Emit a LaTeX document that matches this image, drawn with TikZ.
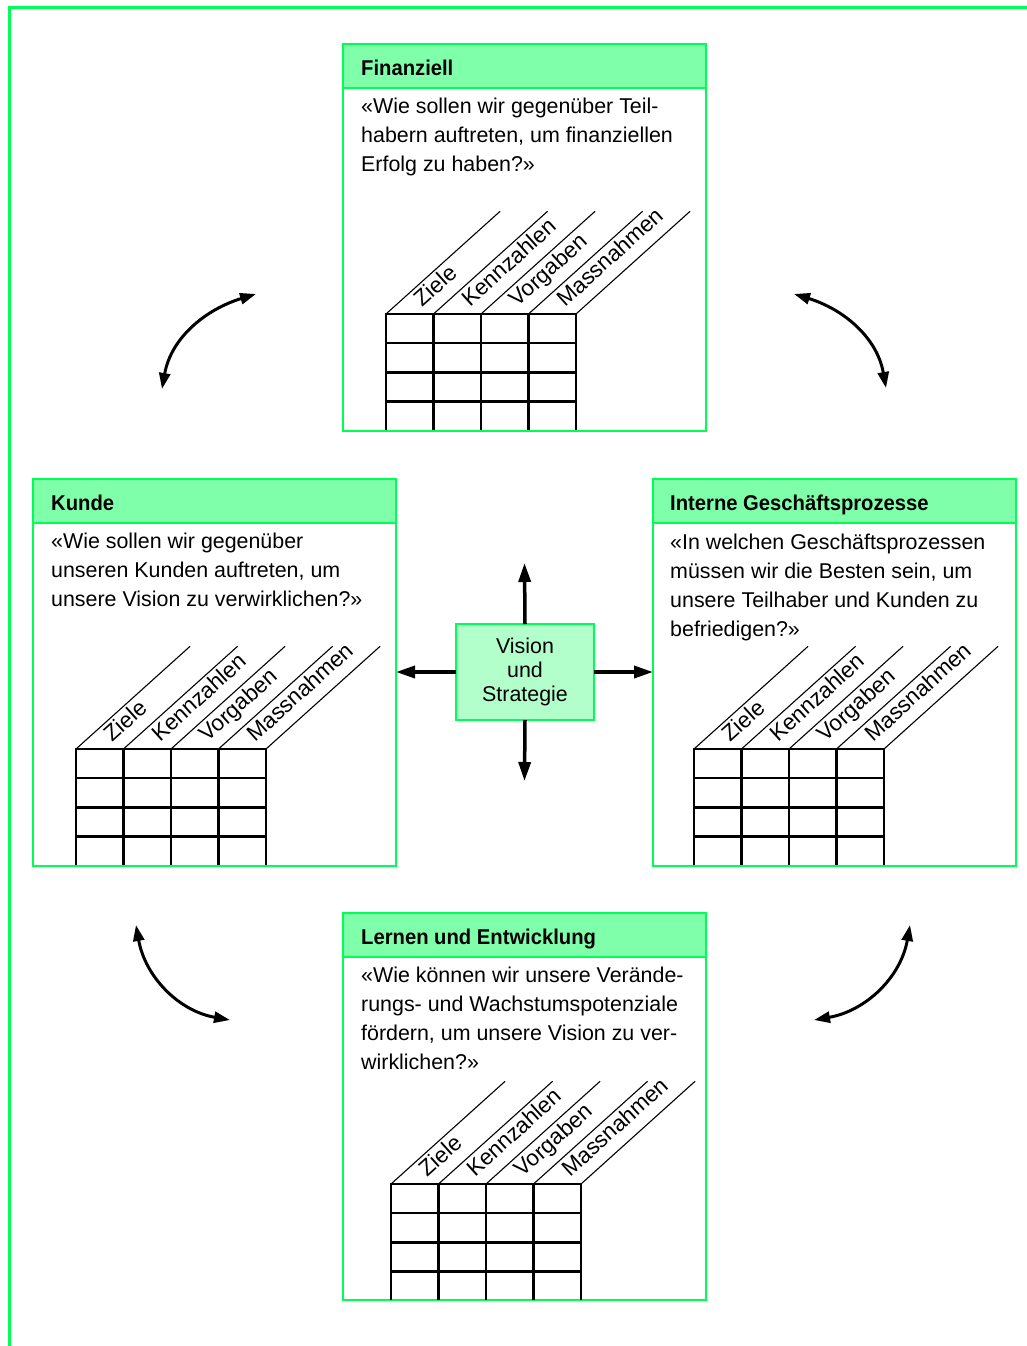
\documentclass[tikz,border=0pt]{standalone}
\usepackage{fontspec}
\setmainfont{Liberation Sans}
\newfontfamily\hdfont{Liberation Sans}[FakeStretch=0.945]
\usetikzlibrary{arrows.meta,calc}

\definecolor{bscgreen}{RGB}{0,255,85}
\definecolor{bschead}{RGB}{128,255,170}
\definecolor{bsccore}{RGB}{179,255,204}

\tikzset{
  panel/.style={draw=bscgreen, line width=2.5, fill=white, inner sep=0, outer sep=0,
    minimum width=363, minimum height=387, anchor=north west},
  headband/.style={draw=bscgreen, line width=2.5, fill=bschead, inner sep=0, outer sep=0,
    minimum width=363, minimum height=44, anchor=north west},
  headtext/.style={anchor=base west, inner sep=0, font=\hdfont\bfseries\fontsize{21.4}{26}\selectfont},
  bodytext/.style={anchor=north west, inner sep=0, align=left, font=\fontsize{21.4}{29}\selectfont},
  core/.style={draw=bscgreen, line width=2.5, fill=bsccore, inner sep=0, outer sep=0,
    minimum width=138, minimum height=96, align=center, font=\fontsize{21.4}{24.3}\selectfont},
  gridrule/.style={draw=black, line width=2.5},
  diagrule/.style={draw=black, line width=1.1},
  collabel/.style={rotate=42, anchor=base west, inner sep=0, font=\fontsize{22.4}{24}\selectfont},
  push/.style={line width=3.5, -{Triangle[length=19pt,width=12pt]}},
  swing/.style={line width=3, {Triangle[length=16pt,width=11pt]}-{Triangle[length=16pt,width=11pt]}},
  frameline/.style={draw=bscgreen, line width=3},
  pics/scorecard/.style={code={
    \foreach \i in {0,...,4}{
      \draw[gridrule] (\i*47.5,0) -- (\i*47.5,-115.5);
      \draw[diagrule] (\i*47.5,0) -- ++(42:153.5);
    }
    \foreach \j in {0,...,3}
      \draw[gridrule] (-1.25,-\j*29.2) -- (191.25,-\j*29.2);
    \foreach \lab [count=\k] in {Ziele,Kennzahlen,Vorgaben,Massnahmen}
      \path (\k*47.5,0) ++(222:4) ++(132:12) node[collabel] {\lab};
  }}
}

\begin{document}
\begin{tikzpicture}[x=1pt,y=1pt]
\useasboundingbox (0,0) rectangle (1026,-1346);

% page frame: top and left rules
\draw[frameline] (1030,-7.3) -- (9.5,-7.3) -- (9.5,-1350);

% the four perspective panels
\node[panel] (fin) at (343,-44) {};
\node[panel] (kun) at (33,-479) {};
\node[panel] (int) at (653,-479) {};
\node[panel] (ler) at (343,-913) {};

\node[headband] (finHead) at (fin.north west) {};
\node[headband] (kunHead) at (kun.north west) {};
\node[headband] (intHead) at (int.north west) {};
\node[headband] (lerHead) at (ler.north west) {};

\node[headtext] (finTitle) at ([xshift=18,yshift=-31]fin.north west) {Finanziell};
\node[headtext] (kunTitle) at ([xshift=18,yshift=-31]kun.north west) {Kunde};
\node[headtext] (intTitle) at ([xshift=17,yshift=-31]int.north west) {Interne Geschäftsprozesse};
\node[headtext] (lerTitle) at ([xshift=18,yshift=-31]ler.north west) {Lernen und Entwicklung};

\node[bodytext] (finText) at ([xshift=18,yshift=-53.5]fin.north west)
  {«Wie sollen wir gegenüber Teil-\\habern auftreten, um finanziellen\\Erfolg zu haben?»};
\node[bodytext] (kunText) at ([xshift=18,yshift=-53.5]kun.north west)
  {«Wie sollen wir gegenüber\\unseren Kunden auftreten, um\\unsere Vision zu verwirklichen?»};
\node[bodytext] (intText) at ([xshift=17,yshift=-54.5]int.north west)
  {«In welchen Geschäftsprozessen\\müssen wir die Besten sein, um\\unsere Teilhaber und Kunden zu\\befriedigen?»};
\node[bodytext] (lerText) at ([xshift=18,yshift=-53.5]ler.north west)
  {«Wie können wir unsere Verände-\\rungs- und Wachstumspotenziale\\fördern, um unsere Vision zu ver-\\wirklichen?»};

% objective / measure / target / initiative tables
\pic at (386,-314) {scorecard};
\pic at (76,-749) {scorecard};
\pic at (694,-749) {scorecard};
\pic at (391,-1184) {scorecard};

% centre: vision and strategy
\node[core] (vs) at (525,-672) {Vision\\und\\Strategie};
\coordinate (upTip) at (524.5,-563);
\coordinate (downTip) at (524.5,-781);
\draw[push] (vs.north) -- (upTip);
\draw[push] (vs.south) -- (downTip);
\draw[push] (vs.west) -- (kun.east |- vs.west);
\draw[push] (vs.east) -- (int.west |- vs.east);

% cause-and-effect arcs between the panels
\coordinate (tlA) at (162,-389);
\coordinate (tlB) at (256,-294);
\coordinate (trA) at (886,-388);
\coordinate (trB) at (794,-294);
\coordinate (blA) at (136,-925);
\coordinate (blB) at (230,-1020);
\coordinate (brA) at (910,-925);
\coordinate (brB) at (814,-1020);
\draw[swing] (tlA) to[out=80,in=197] (tlB);
\draw[swing] (trA) to[out=100,in=-17] (trB);
\draw[swing] (blA) to[out=-80,in=170] (blB);
\draw[swing] (brA) to[out=260,in=10] (brB);
\end{tikzpicture}
\end{document}
